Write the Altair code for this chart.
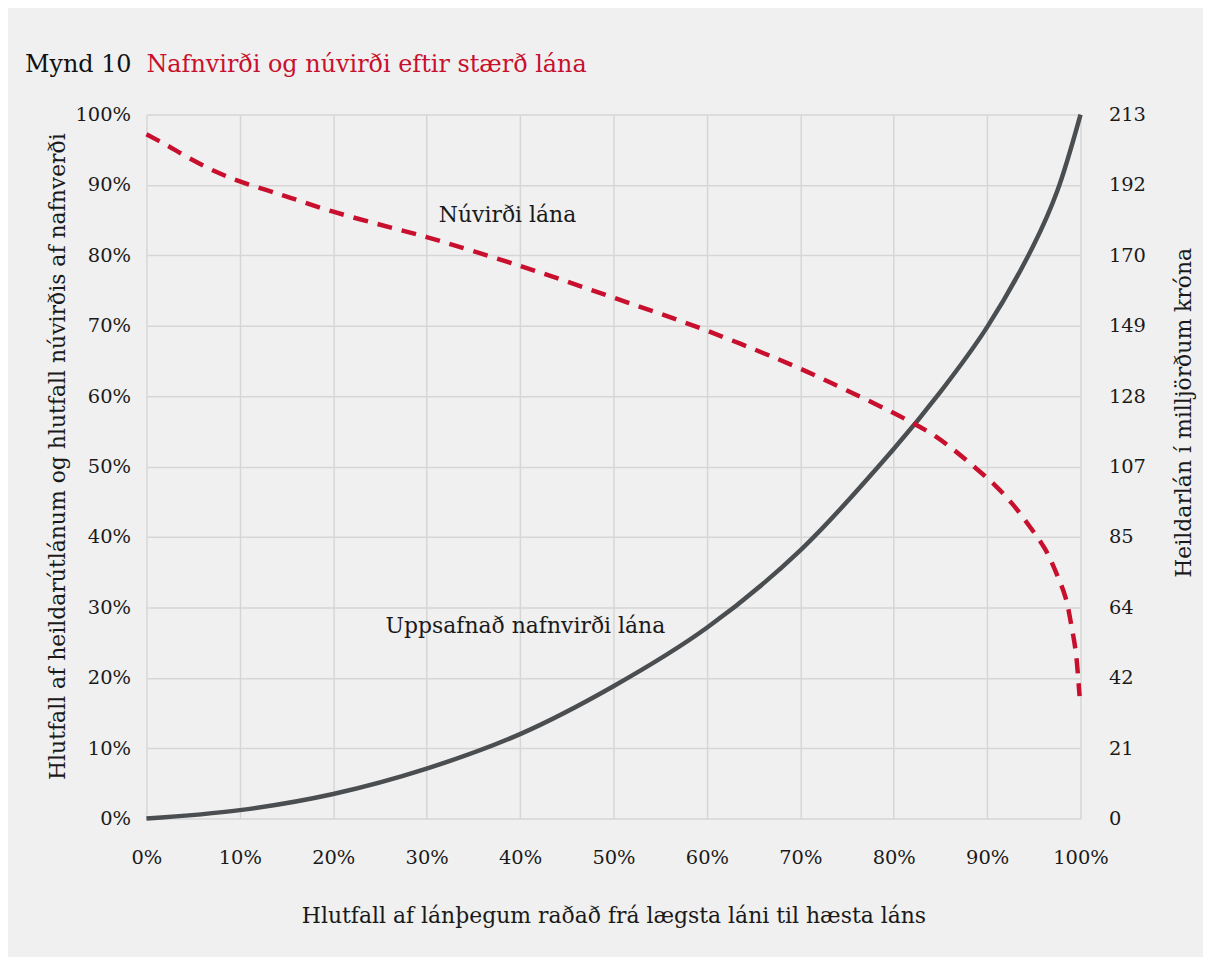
import altair as alt
import pandas as pd

# Cumulative nominal value of loans (share of total), x = share of borrowers
nafn_x = [0, 0.10, 0.20, 0.30, 0.40, 0.50, 0.60, 0.70, 0.80, 0.85, 0.90, 0.95, 0.975, 1.0]
nafn_y = [0, 0.012, 0.035, 0.071, 0.120, 0.188, 0.271, 0.381, 0.525, 0.606, 0.698, 0.815, 0.891, 1.0]

# Present value as share of nominal value
nuv_x = [0, 0.021, 0.046, 0.074, 0.10, 0.128, 0.156, 0.20, 0.263, 0.30, 0.40, 0.50, 0.60, 0.70, 0.75,
         0.80, 0.84, 0.863, 0.885, 0.908, 0.927, 0.945, 0.962, 0.974, 0.984, 0.990, 0.995, 0.998, 0.999]
nuv_y = [0.972, 0.957, 0.938, 0.919, 0.905, 0.893, 0.881, 0.862, 0.839, 0.826, 0.785, 0.740, 0.693, 0.639, 0.608,
         0.576, 0.547, 0.525, 0.501, 0.474, 0.447, 0.416, 0.383, 0.349, 0.314, 0.276, 0.236, 0.191, 0.174]

pct_ticks = [0, 0.1, 0.2, 0.3, 0.4, 0.5, 0.6, 0.7, 0.8, 0.9, 1.0]
right_labels = [0, 21, 42, 64, 85, 107, 128, 149, 170, 192, 213]

title_num = "Mynd 10"
title_text = "Nafnvirði og núvirði eftir stærð lána"
x_title = "Hlutfall af lánþegum raðað frá lægsta láni til hæsta láns"
y_title = "Hlutfall af heildarútlánum og hlutfall núvirðis af nafnverði"
y2_title = "Heildarlán í milljörðum króna"

ann_text = ["Núvirði lána", "Uppsafnað nafnvirði lána"]
ann_x = [0.313, 0.256]
ann_y = [0.857, 0.274]

FONT = "DejaVu Serif"
RED = "#c8102e"
DARK = "#4a4e50"
BG = "#f0f0f0"
TXT = "#1a1a1a"

df_nafn = pd.DataFrame({"x": nafn_x, "y": nafn_y})
df_nuv = pd.DataFrame({"x": nuv_x, "y": nuv_y})
df_ann = pd.DataFrame({"x": ann_x, "y": ann_y, "t": ann_text})
df_title = pd.DataFrame({"a": [title_num], "b": [title_text]})

xscale = alt.Scale(domain=[0, 1], nice=False, zero=False)
yscale = alt.Scale(domain=[0, 1], nice=False)

x_axis = alt.Axis(values=pct_ticks, format=".0%", title=x_title,
                  grid=True, ticks=False, domain=False, labelFlush=False,
                  labelPadding=30, titlePadding=39)

label_expr = "[" + ",".join(str(v) for v in right_labels) + "][round(datum.value*10)]"

solid = alt.Chart(df_nafn).mark_line(color=DARK, strokeWidth=4.5, interpolate="catmull-rom").encode(
    x=alt.X("x:Q", scale=xscale, axis=x_axis),
    y=alt.Y("y:Q", scale=yscale,
            axis=alt.Axis(values=pct_ticks, format=".0%", title=y_title, orient="left",
                          grid=True, ticks=False, domain=False, labelPadding=16,
                          labelFlush=False, titlePadding=6, titleY=343)),
)

dashed = alt.Chart(df_nuv).mark_line(color=RED, strokeWidth=4.5, strokeDash=[15, 10],
                                     interpolate="catmull-rom").encode(
    x=alt.X("x:Q", scale=xscale, axis=x_axis),
    y=alt.Y("y:Q", scale=yscale,
            axis=alt.Axis(values=pct_ticks, labelExpr=label_expr, title=y2_title, orient="right",
                          grid=False, ticks=False, domain=False, labelPadding=28,
                          labelFlush=False, titlePadding=50, titleAngle=-90, titleY=299)),
)

ann = alt.Chart(df_ann).mark_text(font=FONT, fontSize=22, align="left", baseline="middle",
                                  color=TXT).encode(
    x=alt.X("x:Q", scale=xscale, axis=x_axis),
    y=alt.Y("y:Q", scale=yscale, axis=None),
    text="t:N")

t1 = alt.Chart(df_title).mark_text(font=FONT, fontSize=24, align="left", baseline="alphabetic",
                                   color="#111111").encode(
    x=alt.value(-122), y=alt.value(-43), text="a:N")
t2 = alt.Chart(df_title).mark_text(font=FONT, fontSize=24, align="left", baseline="alphabetic",
                                   color=RED).encode(
    x=alt.value(0), y=alt.value(-43), text="b:N")

chart = alt.layer(solid, dashed, ann, t1, t2).resolve_axis(y="independent").properties(
    width=938, height=707,
    autosize=alt.AutoSizeParams(type="none"),
    padding={"left": 139, "top": 105, "right": 123, "bottom": 137},
    background=BG,
).configure_view(stroke=None).configure_axis(
    labelFont=FONT, titleFont=FONT, labelFontSize=19.5, titleFontSize=22,
    labelColor=TXT, titleColor=TXT, titleFontWeight="normal",
    gridColor="#d6d6d6", gridWidth=1.5,
)

chart.save("out.html", embed_options={"renderer": "svg", "actions": False})
